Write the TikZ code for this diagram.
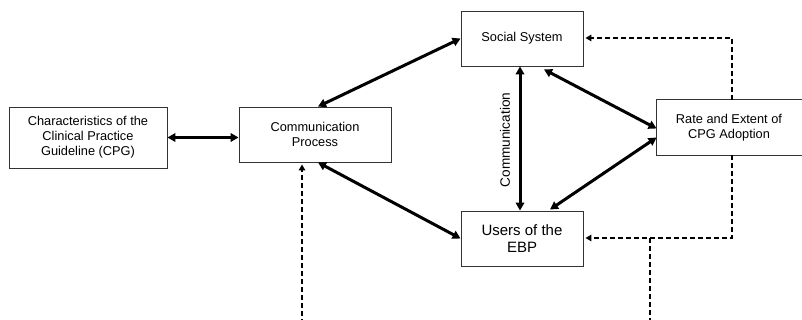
\documentclass[tikz,border=0pt]{standalone}
\usepackage{fontspec}
\setmainfont{Liberation Sans}
\usetikzlibrary{arrows.meta,calc}
\begin{document}
\begin{tikzpicture}[x=1pt,y=-1pt,
  boxnode/.style={draw=black!80,line width=0.9pt,inner sep=0pt,align=center,
    font=\fontsize{12.8}{15}\selectfont},
  boxline/.style={draw=black!80,line width=0.9pt},
  thickarrow/.style={line width=3pt,{Triangle[length=8pt,width=8.5pt]}-{Triangle[length=8pt,width=8.5pt]}},
  dasharrow/.style={line width=2pt,dash pattern=on 5pt off 3pt,-{Triangle[length=6pt,width=6.5pt]}},
  dashline/.style={line width=2pt,dash pattern=on 5pt off 3pt}]
\useasboundingbox (0,0) rectangle (802,320);
\node[boxnode,minimum width=158pt,minimum height=61pt] (cpg) at (88,137.5)
  {Characteristics of the\\Clinical Practice\\Guideline (CPG)};
\node[boxnode,minimum width=152pt,minimum height=55pt] (comm) at (315,134.5)
  {Communication\\Process};
\node[boxnode,minimum width=122pt,minimum height=55pt] (soc) at (522,38.5)
  {Social System};
\node[boxnode,minimum width=122pt,minimum height=55pt,font=\fontsize{15}{17}\selectfont] (users) at (522,238.5)
  {Users of the\\EBP};
\node[boxnode,draw=none,minimum width=144pt,minimum height=55pt] (rate) at (729,127.5)
  {Rate and Extent of\\CPG Adoption};
\draw[boxline] (rate.north west) rectangle ($(rate.south east)+(30,0)$);
\node[rotate=90,font=\fontsize{13.6}{16}\selectfont] (commlabel) at (505,140) {Communication};

\draw[thickarrow] (cpg.east) -- (cpg.east -| comm.west);
\draw[thickarrow] ($(comm.north)+(3,0)$) -- (soc.west);
\draw[thickarrow] ($(comm.south)+(3,0)$) -- (users.west);
\draw[thickarrow] ($(soc.south)+(-2,0)$) -- ($(users.north)+(-2,0)$);
\draw[thickarrow] ($(soc.south)+(22,3)$) -- ($(rate.west)+(0,1)$);
\draw[thickarrow] ($(users.north)+(28,-1)$) -- ($(rate.west)+(0,10)$);

\coordinate (ratetop) at ($(rate.north)+(3,0)$);
\coordinate (ratebottom) at ($(rate.south)+(3,0)$);
\coordinate (branch) at (650,238);
\coordinate (bottomright) at (650,324);
\coordinate (bottomleft) at (302,324);
\draw[dasharrow] (ratetop) |- ($(soc.east)+(2,-0.5)$);
\draw[dasharrow] (ratebottom) |- ($(users.east)+(2,-0.5)$);
\draw[dashline] (branch) -- (bottomright);
\draw[dasharrow] (bottomleft) -- ($(bottomleft |- comm.south)+(0,2)$);
\end{tikzpicture}
\end{document}
